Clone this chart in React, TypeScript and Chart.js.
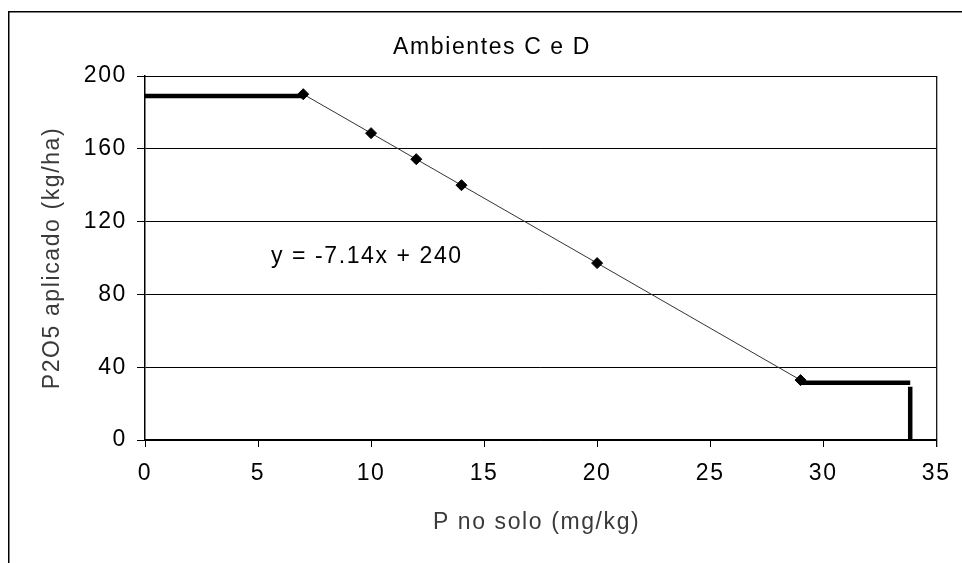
import React, { useEffect, useRef } from 'react';
import { Chart, registerables } from 'chart.js';

Chart.register(...registerables);

// ---- data ----
const pointX = [7, 10, 12, 14, 20, 29];
const pointY = [190, 168.6, 154.3, 140, 97.2, 32.9];
const leftPlateauX = [0, 7];
const leftPlateauY = [189, 189];
const rightPlateauX = [29, 33.85];
const rightPlateauY = [31.5, 31.5];
const dropX = [33.85, 33.85];
const dropY = [29.3, 0];
const xTickValues = [0, 5, 10, 15, 20, 25, 30, 35];
const yTickValues = [0, 40, 80, 120, 160, 200];
const chartTitle = 'Ambientes C e D';
const xTitle = 'P no solo (mg/kg)';
const yTitle = 'P2O5 aplicado (kg/ha)';
const equationText = 'y = -7.14x + 240';
const equationAt = { x: 5.57, y: 100.5 };

const FONT_FAMILY = '"Liberation Sans", Arial, sans-serif';
const FONT_SIZE = 23;
const LETTER_SPACING = '1.6px';

const toXY = (xs: number[], ys: number[]) => xs.map((x, i) => ({ x, y: ys[i] }));

const decorPlugin = {
  id: 'decor',
  beforeDraw(chart: any) {
    const ctx = chart.ctx as CanvasRenderingContext2D;
    (ctx as any).letterSpacing = LETTER_SPACING;
    ctx.save();
    ctx.fillStyle = '#ffffff';
    ctx.fillRect(0, 0, chart.width, chart.height);
    ctx.strokeStyle = '#000';
    ctx.lineWidth = 1.5;
    ctx.strokeRect(8.75, 11.75, 3000, 3000);
    ctx.restore();
  },
  beforeDatasetsDraw(chart: any) {
    const ctx = chart.ctx as CanvasRenderingContext2D;
    const a = chart.chartArea;
    ctx.save();
    ctx.strokeStyle = '#000';
    ctx.lineWidth = 1.2;
    ctx.beginPath();
    ctx.moveTo(a.left, a.top + 0.5);
    ctx.lineTo(a.right + 0.5, a.top + 0.5);
    ctx.lineTo(a.right + 0.5, a.bottom + 7);
    ctx.stroke();
    ctx.restore();
  },
  afterDraw(chart: any) {
    const ctx = chart.ctx as CanvasRenderingContext2D;
    const a = chart.chartArea;
    const xs = chart.scales.x;
    const ys = chart.scales.y;
    ctx.save();
    (ctx as any).letterSpacing = LETTER_SPACING;
    ctx.font = `${FONT_SIZE}px ${FONT_FAMILY}`;
    ctx.textBaseline = 'middle';
    // chart title
    ctx.fillStyle = '#000';
    ctx.textAlign = 'center';
    ctx.fillText(chartTitle, 492, 48);
    // equation
    ctx.textAlign = 'left';
    ctx.fillText(equationText, xs.getPixelForValue(equationAt.x), ys.getPixelForValue(equationAt.y));
    // axis titles
    ctx.fillStyle = '#3a3a3a';
    ctx.textAlign = 'center';
    ctx.fillText(xTitle, (a.left + a.right) / 2 - 4, 523);
    ctx.translate(53, (a.top + a.bottom) / 2);
    ctx.rotate(-Math.PI / 2);
    ctx.fillText(yTitle, 0, 0);
    ctx.restore();
  },
};

export default function App() {
  const canvasRef = useRef<HTMLCanvasElement | null>(null);

  useEffect(() => {
    const canvas = canvasRef.current;
    if (!canvas) return;
    const thick = {
      borderColor: '#000',
      backgroundColor: '#000',
      borderWidth: 4.5,
      pointRadius: 0,
      fill: false,
      tension: 0,
    };
    const chart = new Chart(canvas, {
      type: 'line',
      data: {
        datasets: [
          {
            data: toXY(pointX, pointY),
            borderColor: '#333',
            borderWidth: 1,
            pointStyle: 'rectRot',
            pointRadius: 5.5,
            pointBackgroundColor: '#000',
            pointBorderColor: '#000',
            pointBorderWidth: 1,
            fill: false,
            tension: 0,
          } as any,
          { ...thick, data: toXY(leftPlateauX, leftPlateauY) } as any,
          { ...thick, data: toXY(rightPlateauX, rightPlateauY) } as any,
          { ...thick, data: toXY(dropX, dropY) } as any,
        ],
      },
      options: {
        animation: false,
        responsive: false,
        devicePixelRatio: 1,
        layout: { padding: { left: 0, top: 76, right: 25, bottom: 0 } },
        plugins: {
          legend: { display: false },
          tooltip: { enabled: false },
          title: { display: false },
        },
        events: [],
        scales: {
          x: {
            type: 'linear',
            min: xTickValues[0],
            max: xTickValues[xTickValues.length - 1],
            afterBuildTicks: (s: any) => {
              s.ticks = xTickValues.map((v) => ({ value: v }));
            },
            afterFit: (s: any) => {
              s.height = 123;
            },
            grid: { drawOnChartArea: false, color: '#000', lineWidth: 1, tickLength: 7 },
            border: { color: '#000', width: 1.5 },
            ticks: {
              color: '#000',
              padding: 13,
              maxRotation: 0,
              autoSkip: false,
              font: { family: FONT_FAMILY, size: FONT_SIZE },
            },
          },
          y: {
            type: 'linear',
            min: yTickValues[0],
            max: yTickValues[yTickValues.length - 1],
            afterBuildTicks: (s: any) => {
              s.ticks = yTickValues.map((v) => ({ value: v }));
            },
            afterFit: (s: any) => {
              s.width = 145;
            },
            grid: { color: '#000', lineWidth: 1, tickLength: 8 },
            border: { color: '#000', width: 1.5 },
            ticks: {
              color: '#000',
              padding: 10,
              autoSkip: false,
              font: { family: FONT_FAMILY, size: FONT_SIZE },
            },
          },
        },
      } as any,
      plugins: [decorPlugin],
    });
    return () => chart.destroy();
  }, []);

  return (
    <div style={{ position: 'fixed', left: 0, top: 0, width: 962, height: 563, background: '#fff' }}>
      <canvas ref={canvasRef} width={962} height={563} style={{ display: 'block', width: 962, height: 563 }} />
    </div>
  );
}
